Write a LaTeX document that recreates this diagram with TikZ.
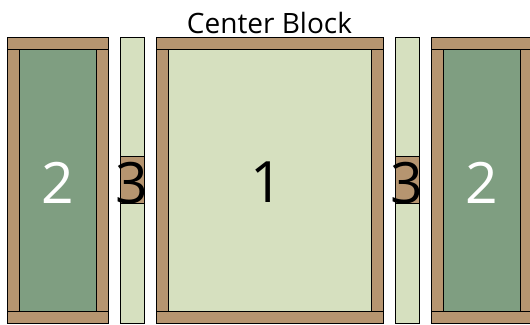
\documentclass[tikz,border=0pt]{standalone}
\usepackage{fontspec}
\setmainfont{Open Sans}
\definecolor{rail}{RGB}{182,149,112}
\definecolor{darkpanel}{RGB}{127,158,129}
\definecolor{lightpanel}{RGB}{214,224,191}
\begin{document}
\begin{tikzpicture}[
  x=1pt, y=-1pt,
  wood/.style={fill=rail, draw=black, line width=0.9pt},
  panel/.style={draw=black, line width=0.9pt},
  num/.style={anchor=base, font=\fontsize{57}{60}\selectfont, inner sep=0pt}
]
\clip (0,0) rectangle (530,324);
% side blocks
\foreach \xa/\xb in {7/108, 431/532} {
  \draw[panel, fill=darkpanel] (\xa+12, 49) rectangle (\xb-12, 311.5);
  \draw[wood] (\xa, 37) rectangle (\xb, 49);
  \draw[wood] (\xa, 311.5) rectangle (\xb, 323);
  \draw[wood] (\xa, 49) rectangle (\xa+12, 311.5);
  \draw[wood] (\xb-12, 49) rectangle (\xb, 311.5);
}
% center block
\draw[panel, fill=lightpanel] (168.5, 49) rectangle (371.5, 311.5);
\draw[wood] (156.5, 37) rectangle (383.5, 49);
\draw[wood] (156.5, 311.5) rectangle (383.5, 323);
\draw[wood] (156.5, 49) rectangle (168.5, 311.5);
\draw[wood] (371.5, 49) rectangle (383.5, 311.5);
% strips
\foreach \xa in {120, 395} {
  \draw[panel, fill=lightpanel] (\xa, 37) rectangle (\xa+24, 323);
  \draw[wood] (\xa, 156) rectangle (\xa+24, 203.5);
}
\node[anchor=base, font=\fontsize{28}{30}\selectfont, inner sep=0pt] (title) at (269.5, 33) {Center Block};
\node[num] (one) at (267, 202.5) {1};
\node[num, text=white] (twoleft) at (57.5, 203) {2};
\node[num, text=white] (tworight) at (481.5, 203) {2};
\node[num] (threeleft) at (132, 203) {3};
\node[num] (threeright) at (407, 203) {3};
\end{tikzpicture}
\end{document}
